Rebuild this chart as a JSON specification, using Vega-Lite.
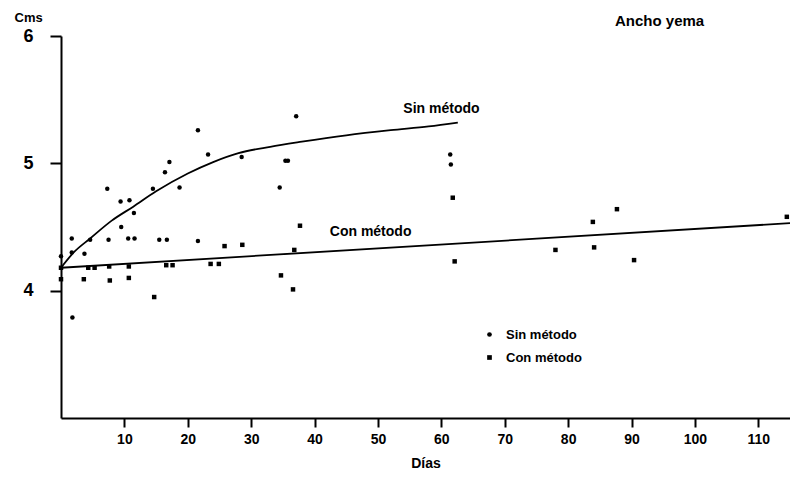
{
  "$schema": "https://vega.github.io/schema/vega-lite/v6.json",
  "width": 729,
  "height": 382,
  "autosize": {"type": "none"},
  "padding": {"left": 61, "top": 36, "right": 0, "bottom": 62},
  "background": "white",
  "config": {"view": {"stroke": null}, "font": "Liberation Sans"},
  "title": {"text": "Ancho yema", "anchor": "start", "dx": 601, "dy": 30, "offset": 12, "fontSize": 15, "fontWeight": "bold", "font": "Liberation Sans", "color": "black"},
  "datasets": {
    "pts": [
      {"d": 1.7, "v": 4.41, "g": "Sin método"},
      {"d": 4.6, "v": 4.40, "g": "Sin método"},
      {"d": 7.5, "v": 4.40, "g": "Sin método"},
      {"d": 10.6, "v": 4.41, "g": "Sin método"},
      {"d": 11.6, "v": 4.41, "g": "Sin método"},
      {"d": 15.5, "v": 4.40, "g": "Sin método"},
      {"d": 16.7, "v": 4.40, "g": "Sin método"},
      {"d": 21.6, "v": 4.39, "g": "Sin método"},
      {"d": 7.3, "v": 4.80, "g": "Sin método"},
      {"d": 9.4, "v": 4.70, "g": "Sin método"},
      {"d": 10.8, "v": 4.71, "g": "Sin método"},
      {"d": 11.5, "v": 4.61, "g": "Sin método"},
      {"d": 9.5, "v": 4.50, "g": "Sin método"},
      {"d": 14.5, "v": 4.80, "g": "Sin método"},
      {"d": 16.4, "v": 4.93, "g": "Sin método"},
      {"d": 17.1, "v": 5.01, "g": "Sin método"},
      {"d": 18.7, "v": 4.81, "g": "Sin método"},
      {"d": 21.6, "v": 5.26, "g": "Sin método"},
      {"d": 23.2, "v": 5.07, "g": "Sin método"},
      {"d": 28.5, "v": 5.05, "g": "Sin método"},
      {"d": 34.5, "v": 4.81, "g": "Sin método"},
      {"d": 35.4, "v": 5.02, "g": "Sin método"},
      {"d": 35.8, "v": 5.02, "g": "Sin método"},
      {"d": 37.1, "v": 5.37, "g": "Sin método"},
      {"d": 61.4, "v": 5.07, "g": "Sin método"},
      {"d": 61.5, "v": 4.99, "g": "Sin método"},
      {"d": 0, "v": 4.27, "g": "Sin método"},
      {"d": 1.7, "v": 4.30, "g": "Sin método"},
      {"d": 3.7, "v": 4.29, "g": "Sin método"},
      {"d": 1.8, "v": 3.79, "g": "Sin método"},
      {"d": 0, "v": 4.18, "g": "Con método"},
      {"d": 4.3, "v": 4.18, "g": "Con método"},
      {"d": 5.3, "v": 4.18, "g": "Con método"},
      {"d": 7.6, "v": 4.19, "g": "Con método"},
      {"d": 10.7, "v": 4.19, "g": "Con método"},
      {"d": 16.6, "v": 4.20, "g": "Con método"},
      {"d": 17.6, "v": 4.20, "g": "Con método"},
      {"d": 23.6, "v": 4.21, "g": "Con método"},
      {"d": 24.9, "v": 4.21, "g": "Con método"},
      {"d": 0, "v": 4.09, "g": "Con método"},
      {"d": 3.6, "v": 4.09, "g": "Con método"},
      {"d": 7.7, "v": 4.08, "g": "Con método"},
      {"d": 10.7, "v": 4.10, "g": "Con método"},
      {"d": 14.7, "v": 3.95, "g": "Con método"},
      {"d": 25.8, "v": 4.35, "g": "Con método"},
      {"d": 28.6, "v": 4.36, "g": "Con método"},
      {"d": 36.8, "v": 4.32, "g": "Con método"},
      {"d": 37.7, "v": 4.51, "g": "Con método"},
      {"d": 34.7, "v": 4.12, "g": "Con método"},
      {"d": 36.6, "v": 4.01, "g": "Con método"},
      {"d": 61.8, "v": 4.73, "g": "Con método"},
      {"d": 62.1, "v": 4.23, "g": "Con método"},
      {"d": 78, "v": 4.32, "g": "Con método"},
      {"d": 84.1, "v": 4.34, "g": "Con método"},
      {"d": 83.9, "v": 4.54, "g": "Con método"},
      {"d": 87.7, "v": 4.64, "g": "Con método"},
      {"d": 90.4, "v": 4.24, "g": "Con método"},
      {"d": 114.5, "v": 4.58, "g": "Con método"}
    ],
    "sin": [
      {"d": 0, "v": 4.18},
      {"d": 2, "v": 4.30},
      {"d": 4.6, "v": 4.41},
      {"d": 8, "v": 4.55},
      {"d": 11.4, "v": 4.66},
      {"d": 15, "v": 4.78},
      {"d": 20, "v": 4.92},
      {"d": 24, "v": 5.01},
      {"d": 28, "v": 5.08},
      {"d": 33, "v": 5.13},
      {"d": 38, "v": 5.17},
      {"d": 45, "v": 5.22},
      {"d": 52, "v": 5.26},
      {"d": 58, "v": 5.29},
      {"d": 62.6, "v": 5.32}
    ],
    "con": [
      {"d": 0, "v": 4.18},
      {"d": 115, "v": 4.53}
    ],
    "labels": [
      {"d": 54, "v": 5.43, "t": "Sin método"},
      {"d": 42.4, "v": 4.46, "t": "Con método"}
    ]
  },
  "layer": [
    {
      "data": {"name": "sin"},
      "mark": {"type": "line", "color": "black", "strokeWidth": 1.8, "interpolate": "monotone"},
      "encoding": {
        "x": {
          "field": "d", "type": "quantitative",
          "scale": {"domain": [0, 115], "nice": false, "zero": false},
          "axis": {
            "title": "Días", "values": [10, 20, 30, 40, 50, 60, 70, 80, 90, 100, 110],
            "grid": false, "domainColor": "black", "domainWidth": 2,
            "tickColor": "black", "tickWidth": 2, "tickSize": 9,
            "labelFontSize": 14, "labelFontWeight": "bold", "labelColor": "black", "labelPadding": 5,
            "labelFont": "Liberation Sans",
            "titleFontSize": 14, "titleFontWeight": "bold", "titleColor": "black", "titlePadding": 10,
            "titleFont": "Liberation Sans"
          }
        },
        "y": {
          "field": "v", "type": "quantitative",
          "scale": {"domain": [3, 6], "nice": false, "zero": false},
          "axis": {
            "title": "Cms", "values": [4, 5, 6], "format": "d",
            "titleAngle": 0, "titleX": -47, "titleY": -15, "titleAlign": "left", "titleBaseline": "alphabetic",
            "titleFontSize": 13, "titleFontWeight": "bold", "titleColor": "black", "titleFont": "Liberation Sans",
            "grid": false, "domainColor": "black", "domainWidth": 2,
            "tickColor": "black", "tickWidth": 2, "tickSize": 11,
            "labelFontSize": 18, "labelFontWeight": "bold", "labelColor": "black", "labelPadding": 17,
            "labelFont": "Liberation Sans"
          }
        }
      }
    },
    {
      "data": {"name": "con"},
      "mark": {"type": "line", "color": "black", "strokeWidth": 1.8},
      "encoding": {
        "x": {"field": "d", "type": "quantitative"},
        "y": {"field": "v", "type": "quantitative"}
      }
    },
    {
      "data": {"name": "pts"},
      "mark": {"type": "point", "filled": true, "color": "black", "opacity": 1, "size": 20},
      "encoding": {
        "x": {"field": "d", "type": "quantitative"},
        "y": {"field": "v", "type": "quantitative"},
        "shape": {
          "field": "g", "type": "nominal",
          "scale": {"domain": ["Sin método", "Con método"], "range": ["circle", "square"]},
          "legend": {
            "orient": "none", "legendX": 422, "legendY": 292, "title": null,
            "labelFontSize": 13, "labelFontWeight": "bold", "labelColor": "black", "labelFont": "Liberation Sans",
            "symbolFillColor": "black", "symbolStrokeColor": "black", "symbolSize": 22,
            "rowPadding": 9, "labelOffset": 10
          }
        }
      }
    },
    {
      "data": {"name": "labels"},
      "mark": {"type": "text", "align": "left", "baseline": "middle", "fontSize": 14, "fontWeight": "bold", "font": "Liberation Sans", "color": "black"},
      "encoding": {
        "x": {"field": "d", "type": "quantitative"},
        "y": {"field": "v", "type": "quantitative"},
        "text": {"field": "t"}
      }
    }
  ]
}
